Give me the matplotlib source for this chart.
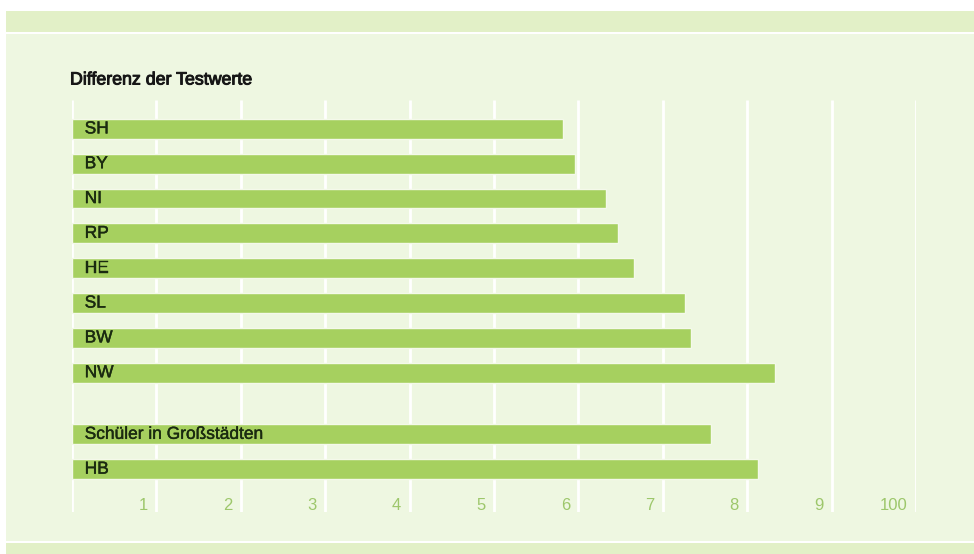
import matplotlib.pyplot as plt
import matplotlib.patheffects as pe
from matplotlib.patches import Rectangle

plt.rcParams['font.family'] = ['Liberation Sans', 'DejaVu Sans']

# data
laender = ['SH', 'BY', 'NI', 'RP', 'HE', 'SL', 'BW', 'NW', 'Schüler in Großstädten', 'HB']
werte = [5.82, 5.96, 6.33, 6.47, 6.66, 7.26, 7.33, 8.33, 7.57, 8.13]
pos = [0, 1, 2, 3, 4, 5, 6, 7, 8.77, 9.77]
ticks = [1, 2, 3, 4, 5, 6, 7, 8, 9, 10]
tick_labels = ['1', '2', '3', '4', '5', '6', '7', '8', '9', '100']

W, H = 974, 554
fig = plt.figure(figsize=(W / 100, H / 100), dpi=100)
fig.patch.set_facecolor('white')

def px_rect(x0, y0, x1, y1, color):
    # pixel coords from top-left
    fig.patches.append(Rectangle((x0 / W, 1 - y1 / H), (x1 - x0) / W, (y1 - y0) / H,
                                 transform=fig.transFigure, facecolor=color,
                                 edgecolor='none', zorder=-5))

px_rect(6, 11, W, 32, '#e2f0c7')
px_rect(6, 34, W, 541, '#eef7e1')
px_rect(6, 543, W, H, '#e2f0c7')

fig.text(70 / W, 1 - 80 / H, 'Differenz der Testwerte', fontsize=12.8,
         color='#161616', ha='left', va='center',
         path_effects=[pe.withStroke(linewidth=0.7, foreground='#161616')])

ax = fig.add_axes([72 / W, 1 - 512 / H, 844 / W, 412 / H])
ax.set_facecolor('none')
ax.set_zorder(2)
ax.set_xlim(0, 10)
ax.set_ylim(11.0, -0.83)
ax.axis('off')

ax.vlines([0] + ticks, -0.83, 11.0, color='white', lw=2, zorder=1)

ax.barh(pos, werte, height=0.57, color='#a6d05f', edgecolor='#f4f9ea',
        linewidth=1, zorder=2)

for p, name in zip(pos, laender):
    ax.text(0.15, p, name, fontsize=12.5, color='#1a2a10', ha='left',
            va='center', zorder=3,
            path_effects=[pe.withStroke(linewidth=0.3, foreground='#1a2a10')])

for t, lab in zip(ticks, tick_labels):
    ax.text(t - 0.1, 10.8, lab, fontsize=12, color='#9dc76b', ha='right',
            va='center', zorder=3)

fig.savefig('out.png', dpi=100, facecolor=fig.get_facecolor())
